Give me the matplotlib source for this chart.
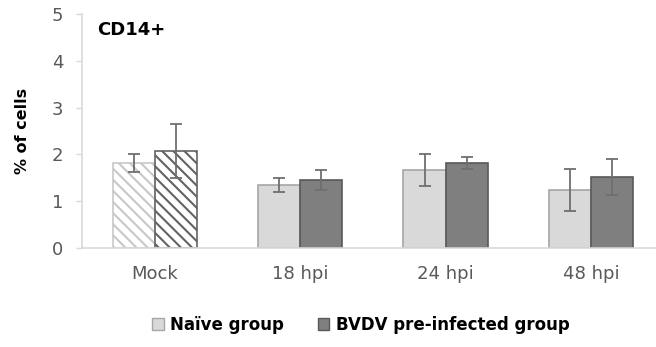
import matplotlib
matplotlib.use("Agg")
import matplotlib.pyplot as plt
import numpy as np
from matplotlib.patches import Patch

plt.rcParams["font.family"] = ["DejaVu Sans"]
plt.rcParams["hatch.linewidth"] = 1.5

categories = ["Mock", "18 hpi", "24 hpi", "48 hpi"]
naive = [1.82, 1.35, 1.67, 1.24]
naive_err = [0.19, 0.15, 0.34, 0.44]
bvdv = [2.07, 1.45, 1.81, 1.52]
bvdv_err = [0.58, 0.22, 0.13, 0.39]

x = np.arange(len(categories))
w = 0.29

fig = plt.figure(figsize=(6.56, 3.47), dpi=100)
ax = fig.add_axes([82 / 656, 99 / 347, 574 / 656, 234 / 347])

light, dark = "#d9d9d9", "#7f7f7f"
light_edge, dark_edge = "#a6a6a6", "#595959"
err_kw = dict(ecolor="#6f6f6f", elinewidth=1.3, capsize=4.5, capthick=1.3)

b1 = ax.bar(x - w / 2, naive, w, yerr=naive_err, color=light,
            edgecolor=light_edge, linewidth=1.2, error_kw=err_kw, zorder=2)
b2 = ax.bar(x + w / 2, bvdv, w, yerr=bvdv_err, color=dark,
            edgecolor=dark_edge, linewidth=1.2, error_kw=err_kw, zorder=2)

# mock bars are drawn hatched on white
b1[0].set_facecolor("white")
b1[0].set_hatch("\\\\\\")
b1[0].set_edgecolor("#c8c8c8")
b2[0].set_facecolor("white")
b2[0].set_hatch("\\\\\\")
b2[0].set_edgecolor("#636363")

ax.set_xlim(-0.502, 3.448)
ax.set_ylim(0, 5)
ax.set_yticks(range(6))
ax.set_xticks(x)
ax.set_xticklabels(categories)
ax.tick_params(axis="y", length=4.5, width=1, color="#d9d9d9",
               labelsize=13, labelcolor="#595959", pad=9)
ax.tick_params(axis="x", length=0, labelsize=13, labelcolor="#595959", pad=12)
for s in ["top", "right"]:
    ax.spines[s].set_visible(False)
ax.spines["left"].set_color("#d9d9d9")
ax.spines["bottom"].set_color("#d9d9d9")
ax.spines["left"].set_linewidth(1.2)
ax.spines["bottom"].set_linewidth(1.2)

ax.set_ylabel("% of cells", fontsize=11.5, fontweight="bold", labelpad=16)
ax.text(0.027, 0.93, "CD14+", transform=ax.transAxes, fontsize=13,
        fontweight="bold", va="center")

handles = [Patch(facecolor=light, edgecolor=light_edge),
           Patch(facecolor=dark, edgecolor=dark_edge)]
fig.legend(handles, ["Naïve group", "BVDV pre-infected group"],
           loc="center", bbox_to_anchor=(0.55, 0.063), ncol=2, frameon=False,
           prop={"weight": "bold", "size": 12}, handlelength=0.7,
           handleheight=0.7, handletextpad=0.4, columnspacing=2.0)

fig.savefig("out.png", dpi=100)
